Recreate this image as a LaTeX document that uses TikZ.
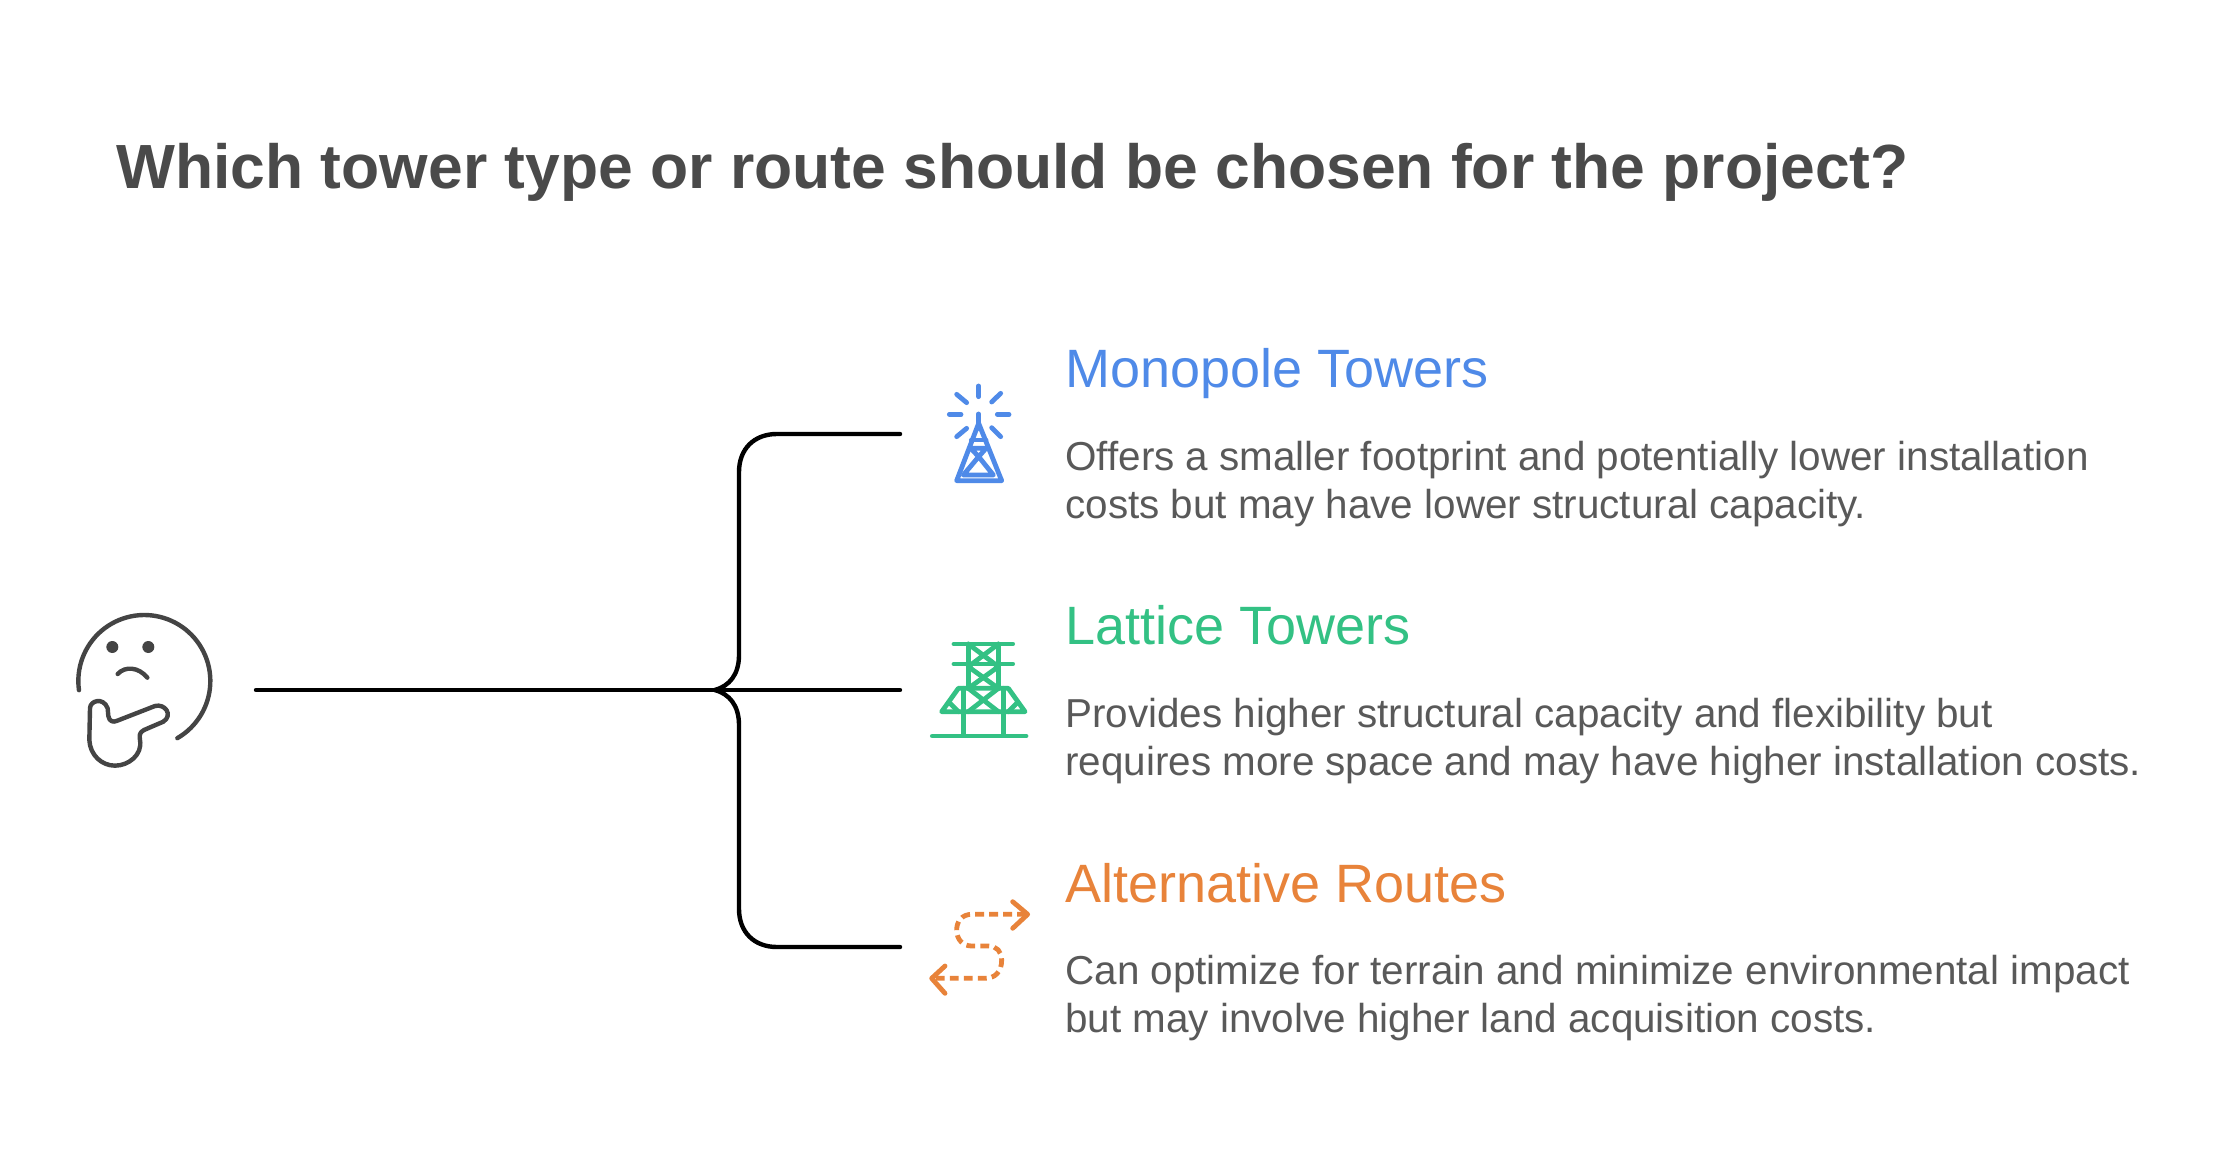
\documentclass[tikz,border=0pt]{standalone}
\usepackage{fontspec}
\setmainfont{Liberation Sans}
\definecolor{titlegray}{HTML}{4A4A4A}
\definecolor{bodygray}{HTML}{595959}
\definecolor{iconblue}{HTML}{4F8AE8}
\definecolor{icongreen}{HTML}{33C184}
\definecolor{iconorange}{HTML}{E8833A}
\definecolor{facegray}{HTML}{444444}
\tikzset{
  titletext/.style={anchor=base west,inner sep=0pt,text=titlegray,font=\fontsize{31.2}{36}\selectfont\bfseries},
  headtext/.style={anchor=base west,inner sep=0pt,font=\fontsize{27}{30}\selectfont},
  bodytext/.style={anchor=base west,inner sep=0pt,text=bodygray,align=left,font=\fontsize{20.2}{24}\selectfont},
  wire/.style={draw=black,line width=2.2pt,line cap=round,line join=round},
  iconline/.style={line width=2.4pt,line cap=round,line join=round},
  zoomA/.style={xshift=20pt,yshift=-290pt,x=0.16667pt,y=-0.16667pt},
  zoomB/.style={xshift=450pt,yshift=-180pt,x=0.16667pt,y=-0.16667pt},
  zoomC/.style={xshift=450pt,yshift=-310pt,x=0.16667pt,y=-0.16667pt},
  zoomD/.style={xshift=450pt,yshift=-440pt,x=0.16667pt,y=-0.16667pt},
}
\begin{document}
\begin{tikzpicture}[x=0.5pt,y=-0.5pt]
\path[use as bounding box,fill=white] (0,0) rectangle (2214,1170);

\node[titletext] (title) at (116,189) {Which tower type or route should be chosen for the project?};

\node[headtext,text=iconblue] (h1) at (1065,388) {Monopole Towers};
\node[bodytext] (b1) at (1065,518) {Offers a smaller footprint and potentially lower installation\\costs but may have lower structural capacity.};
\node[headtext,text=icongreen] (h2) at (1065,644) {Lattice Towers};
\node[bodytext] (b2) at (1065,775) {Provides higher structural capacity and flexibility but\\requires more space and may have higher installation costs.};
\node[headtext,text=iconorange] (h3) at (1065,902) {Alternative Routes};
\node[bodytext] (b3) at (1065,1032) {Can optimize for terrain and minimize environmental impact\\but may involve higher land acquisition costs.};

% connectors
\coordinate (src) at (256,690);
\coordinate (hub) at (715,690);
\coordinate (t1) at (900,434);
\coordinate (t2) at (900,690);
\coordinate (t3) at (900,947);
\draw[wire] (src) -- (t2);
\draw[wire] (t1) -- (777,434) .. controls (754,434) and (739,449) .. (739,472) -- (739,655) .. controls (739,675) and (729,686) .. (hub);
\draw[wire] (t3) -- (777,947) .. controls (754,947) and (739,932) .. (739,909) -- (739,725) .. controls (739,705) and (729,694) .. (hub);

% thinking face
\begin{scope}[zoomA,draw=facegray,line width=2.2pt,line cap=round,line join=round]
\draw plot[domain=188:-60,samples=70] ({313+198*cos(\x)},{303-198*sin(\x)});
\fill[facegray] (217,201) circle[radius=3pt];
\fill[facegray] (325,201) circle[radius=3pt];
\draw (233,282) .. controls (255,258) and (295,260) .. (322,293);
\draw (150,385) .. controls (150,362) and (190,350) .. (203,385) -- (205,408) .. controls (208,425) and (220,428) .. (232,422)
 -- (345,378) .. controls (375,370) and (400,405) .. (370,425) -- (312,450) .. controls (298,458) and (298,465) .. (300,480)
 .. controls (308,525) and (265,557) .. (225,557) .. controls (185,557) and (150,525) .. (148,480) -- cycle;
\end{scope}

% monopole icon
\begin{scope}[zoomB,draw=iconblue,iconline]
\draw (236,78) -- (236,110);
\draw (170,103) -- (200,128);
\draw (302,100) -- (275,126);
\draw (148,163) -- (183,163);
\draw (292,163) -- (327,163);
\draw (170,230) -- (200,205);
\draw (302,230) -- (275,203);
\draw (236,162) -- (236,205);
\draw (236,190) -- (170,362) -- (305,362) -- cycle;
\draw (214,240) -- (258,240);
\draw (212,265) -- (258,265) -- (236,290) -- cycle;
\draw (236,290) -- (190,345) -- (280,345) -- cycle;
\end{scope}

% lattice icon
\begin{scope}[zoomC,draw=icongreen,iconline]
\draw (162,72) -- (338,72);
\draw (162,132) -- (338,132);
\draw (205,72) -- (205,205);
\draw (295,72) -- (295,205);
\draw (205,72) -- (295,140) -- (205,205);
\draw (295,72) -- (205,140) -- (295,205);
\draw (175,205) -- (325,205) -- (375,275) -- (125,275) -- cycle;
\draw (205,205) -- (295,275);
\draw (295,205) -- (205,275);
\draw (190,205) -- (190,345);
\draw (310,205) -- (310,345);
\draw (97,348) -- (378,348);
\draw (150,250) -- (175,275);
\draw (350,250) -- (325,275);
\end{scope}

% route icon
\begin{scope}[zoomD,draw=iconorange,iconline]
\draw[dash pattern=on 4.4pt off 2.6pt,line cap=butt] (378,103) -- (215,103) .. controls (185,103) and (170,125) .. (170,150)
 .. controls (170,180) and (190,198) .. (215,198) -- (265,198) .. controls (290,198) and (305,215) .. (305,240)
 .. controls (305,275) and (285,295) .. (255,295) -- (100,295);
\draw (338,65) -- (383,103) -- (338,145);
\draw (135,258) -- (95,295) -- (135,340);
\end{scope}
\end{tikzpicture}
\end{document}
